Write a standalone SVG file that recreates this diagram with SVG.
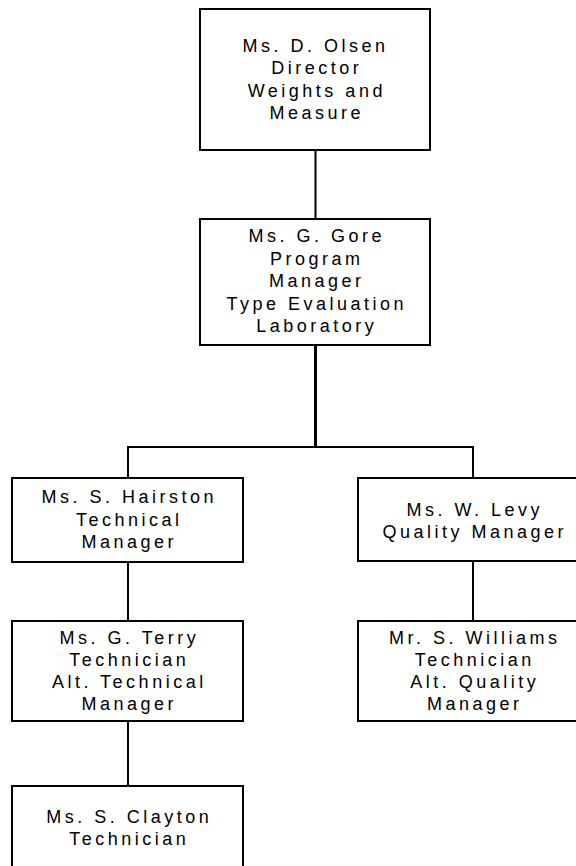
<svg xmlns="http://www.w3.org/2000/svg" width="576" height="866" viewBox="0 0 576 866">
<style>
.box{fill:#fff;stroke:#000;stroke-width:2}
.t{font-family:"Liberation Sans",Arial,sans-serif;font-size:18px;letter-spacing:3.5px;fill:#000;text-anchor:middle}
.c{stroke:#000;stroke-width:2;fill:none}
</style>
<rect width="576" height="866" fill="#fff"/>
<g id="connectors">
<line class="c" x1="315.5" y1="150" x2="315.5" y2="219"/>
<line class="c" x1="315.5" y1="345" x2="315.5" y2="447" style="stroke-width:3"/>
<polyline class="c" points="128,478 128,447 473,447 473,478"/>
<line class="c" x1="128" y1="562" x2="128" y2="621"/>
<line class="c" x1="128" y1="721" x2="128" y2="786"/>
<line class="c" x1="473" y1="561" x2="473" y2="621"/>
</g>
<g id="olsen">
<rect class="box" x="200" y="9" width="230" height="141"/>
<text class="t" x="315.5" y="52">Ms. D. Olsen</text>
<text class="t" x="316.8" y="74">Director</text>
<text class="t" x="316.8" y="97">Weights and</text>
<text class="t" x="316.8" y="119">Measure</text>
</g>
<g id="gore">
<rect class="box" x="200" y="219" width="230" height="126"/>
<text class="t" x="316.8" y="242">Ms. G. Gore</text>
<text class="t" x="316.8" y="265">Program</text>
<text class="t" x="316.8" y="287">Manager</text>
<text class="t" x="316.8" y="310">Type Evaluation</text>
<text class="t" x="316.8" y="332">Laboratory</text>
</g>
<g id="hairston">
<rect class="box" x="12" y="478" width="231" height="84"/>
<text class="t" x="129.3" y="503">Ms. S. Hairston</text>
<text class="t" x="129.3" y="525.5">Technical</text>
<text class="t" x="129.3" y="548">Manager</text>
</g>
<g id="levy">
<rect class="box" x="358" y="478" width="231" height="83"/>
<text class="t" x="474.8" y="516">Ms. W. Levy</text>
<text class="t" x="474.8" y="538">Quality Manager</text>
</g>
<g id="terry">
<rect class="box" x="12" y="621" width="231" height="100"/>
<text class="t" x="129.3" y="643.5">Ms. G. Terry</text>
<text class="t" x="129.3" y="665.5">Technician</text>
<text class="t" x="129.3" y="688">Alt. Technical</text>
<text class="t" x="129.3" y="710">Manager</text>
</g>
<g id="williams">
<rect class="box" x="358" y="621" width="231" height="100"/>
<text class="t" x="474.8" y="643.5">Mr. S. Williams</text>
<text class="t" x="474.8" y="665.5">Technician</text>
<text class="t" x="474.8" y="688">Alt. Quality</text>
<text class="t" x="474.8" y="710">Manager</text>
</g>
<g id="clayton">
<rect class="box" x="12" y="786" width="231" height="100"/>
<text class="t" x="129.3" y="823">Ms. S. Clayton</text>
<text class="t" x="129.3" y="845">Technician</text>
</g>
</svg>
